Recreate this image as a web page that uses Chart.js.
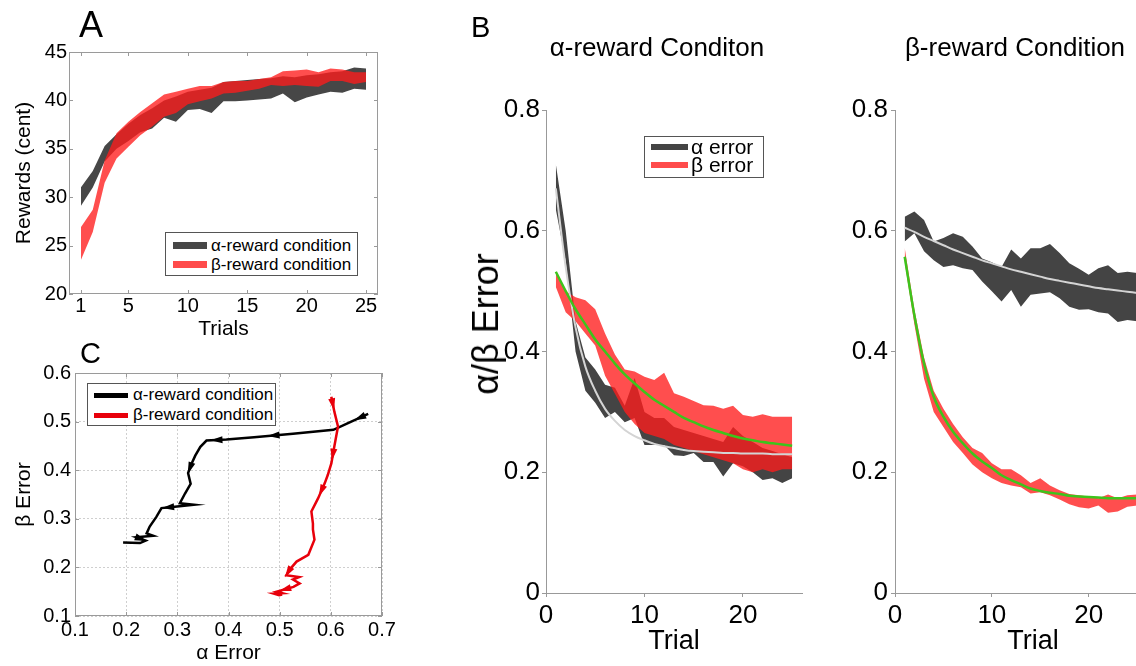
<!DOCTYPE html>
<html>
<head>
<meta charset="utf-8">
<script src="https://cdn.jsdelivr.net/npm/chart.js@4.4.1/dist/chart.umd.min.js"></script>
<style>
  html, body { margin: 0; padding: 0; background: #fff; }
  body { position: relative; width: 1136px; height: 666px; overflow: hidden;
         font-family: "Liberation Sans", Arial, sans-serif; color: #000; }
  canvas, .txt, .legend { position: absolute; }
  .txt { line-height: 1; white-space: nowrap; }
  .legend { border: 1px solid #555; background: #fff; box-sizing: border-box; }
  .legend .row { display: flex; align-items: center; white-space: nowrap; }
  .legend .sw { display: inline-block; flex: none; }
</style>
</head>
<body>
<canvas id="chartA" width="400" height="342" style="left:0;top:0"></canvas>
<canvas id="chartC" width="402" height="336" style="left:0;top:330px"></canvas>
<canvas id="chartBL" width="345" height="662" style="left:460px;top:0"></canvas>
<canvas id="chartBR" width="374" height="662" style="left:800px;top:0"></canvas>

<div class="txt" style="left:79px;top:7px;font-size:36px">A</div>
<div class="txt" style="left:471px;top:13px;font-size:29px">B</div>
<div class="txt" style="left:80px;top:339px;font-size:29px">C</div>
<div class="txt" style="left:657px;top:34px;font-size:26px;transform:translateX(-50%)">α-reward Conditon</div>
<div class="txt" style="left:1015px;top:34px;font-size:26px;transform:translateX(-50%)">β-reward Condition</div>
<div class="txt" style="left:486px;top:324px;font-size:36px;transform:translate(-50%,-50%) rotate(-90deg)">α/β Error</div>

<div class="legend" style="left:165px;top:232px;width:193px;height:44px;padding-top:3px;font-size:17px">
  <div class="row" style="height:19px"><span class="sw" style="width:34px;height:7px;margin:0 4px 0 7px;background:#474747"></span>α-reward condition</div>
  <div class="row" style="height:19px"><span class="sw" style="width:34px;height:7px;margin:0 4px 0 7px;background:#ff4c4c"></span>β-reward condition</div>
</div>
<div class="legend" style="left:87px;top:383px;width:189px;height:43px;padding-top:1px;font-size:17px">
  <div class="row" style="height:20px"><span class="sw" style="width:34px;height:5px;margin:0 5px 0 6px;background:#000"></span>α-reward condition</div>
  <div class="row" style="height:20px"><span class="sw" style="width:34px;height:5px;margin:0 5px 0 6px;background:#e8000b"></span>β-reward condition</div>
</div>
<div class="legend" style="left:644px;top:136px;width:120px;height:42px;padding-top:1px;font-size:21px">
  <div class="row" style="height:18px"><span class="sw" style="width:37px;height:6px;margin:0 3px 0 6px;background:#444"></span>α error</div>
  <div class="row" style="height:18px"><span class="sw" style="width:37px;height:6px;margin:0 3px 0 6px;background:#ff4c4c"></span>β error</div>
</div>

<script>
// trials 1..25
const trials = [1, 2, 3, 4, 5, 6, 7, 8, 9, 10, 11, 12, 13, 14, 15, 16, 17, 18, 19, 20, 21, 22, 23, 24, 25];

// A: rewards, upper / lower edge of each band
const rewardAlphaHi = [31.0, 32.7, 35.3, 36.5, 37.6, 38.5, 39.2, 40.0, 40.4, 40.9, 41.1, 41.3, 41.9, 42.0, 42.1, 42.2, 42.3, 42.5, 42.4, 42.6, 42.7, 42.9, 43.0, 43.4, 43.3];
const rewardAlphaLo = [29.1, 31.0, 33.7, 35.0, 35.8, 36.7, 37.1, 38.2, 37.8, 39.0, 39.1, 38.7, 39.9, 39.9, 40.0, 40.1, 40.2, 40.7, 39.8, 40.3, 40.6, 40.9, 40.8, 41.2, 41.1];
const rewardBetaHi = [26.9, 28.7, 33.8, 36.6, 37.8, 38.8, 39.7, 40.6, 40.9, 41.2, 41.5, 41.5, 41.9, 42.0, 42.0, 42.2, 42.4, 43.0, 43.1, 43.2, 42.9, 43.3, 43.2, 42.9, 42.9];
const rewardBetaLo = [23.5, 26.4, 31.5, 34.0, 35.2, 36.4, 37.3, 38.3, 38.7, 39.6, 39.9, 40.2, 40.7, 40.8, 41.0, 41.2, 41.6, 41.5, 41.6, 41.5, 41.4, 42.0, 42.0, 41.7, 41.9];
const trialTicksA = [1, 5, 10, 15, 20, 25];
const rewardTicks = [20, 25, 30, 35, 40, 45];

// B left: alpha-reward condition
const alphaErrHiL = [0.71, 0.60, 0.45, 0.39, 0.37, 0.345, 0.34, 0.31, 0.356, 0.30, 0.29, 0.29, 0.275, 0.27, 0.265, 0.26, 0.255, 0.25, 0.275, 0.26, 0.25, 0.24, 0.235, 0.23, 0.225];
const alphaErrLoL = [0.635, 0.55, 0.40, 0.335, 0.315, 0.29, 0.30, 0.283, 0.29, 0.245, 0.245, 0.245, 0.228, 0.227, 0.232, 0.217, 0.217, 0.193, 0.215, 0.21, 0.20, 0.187, 0.19, 0.182, 0.19];
const betaErrHiL = [0.532, 0.50, 0.49, 0.485, 0.47, 0.43, 0.395, 0.37, 0.367, 0.358, 0.353, 0.365, 0.331, 0.325, 0.318, 0.311, 0.310, 0.305, 0.310, 0.295, 0.292, 0.296, 0.292, 0.292, 0.292];
const betaErrLoL = [0.507, 0.465, 0.45, 0.43, 0.41, 0.36, 0.33, 0.30, 0.28, 0.265, 0.26, 0.255, 0.245, 0.24, 0.235, 0.23, 0.225, 0.22, 0.215, 0.205, 0.20, 0.205, 0.20, 0.205, 0.205];
const alphaFitL = [0.67, 0.54, 0.44, 0.375, 0.335, 0.305, 0.285, 0.27, 0.26, 0.253, 0.247, 0.243, 0.24, 0.237, 0.235, 0.234, 0.233, 0.232, 0.232, 0.231, 0.231, 0.231, 0.23, 0.23, 0.23];
const betaFitL = [0.532, 0.50, 0.47, 0.445, 0.42, 0.40, 0.38, 0.362, 0.347, 0.333, 0.32, 0.31, 0.30, 0.29, 0.283, 0.276, 0.27, 0.265, 0.26, 0.256, 0.253, 0.25, 0.248, 0.246, 0.244];

// B right: beta-reward condition
const alphaErrHiR = [0.623, 0.632, 0.618, 0.582, 0.588, 0.596, 0.590, 0.574, 0.554, 0.548, 0.540, 0.569, 0.554, 0.571, 0.571, 0.578, 0.563, 0.546, 0.537, 0.527, 0.538, 0.543, 0.530, 0.532, 0.530];
const alphaErrLoR = [0.582, 0.596, 0.566, 0.551, 0.540, 0.543, 0.538, 0.535, 0.516, 0.500, 0.483, 0.502, 0.474, 0.494, 0.496, 0.498, 0.488, 0.474, 0.469, 0.470, 0.465, 0.463, 0.449, 0.452, 0.450];
const betaErrHiR = [0.572, 0.47, 0.39, 0.335, 0.305, 0.28, 0.258, 0.24, 0.232, 0.215, 0.205, 0.205, 0.195, 0.182, 0.19, 0.178, 0.17, 0.164, 0.162, 0.16, 0.157, 0.163, 0.157, 0.162, 0.163];
const betaErrLoR = [0.548, 0.445, 0.355, 0.30, 0.275, 0.25, 0.232, 0.213, 0.20, 0.19, 0.182, 0.178, 0.175, 0.165, 0.167, 0.162, 0.155, 0.147, 0.142, 0.14, 0.145, 0.133, 0.135, 0.143, 0.145];
const alphaFitR = [0.605, 0.598, 0.590, 0.583, 0.576, 0.569, 0.563, 0.557, 0.551, 0.546, 0.541, 0.536, 0.532, 0.528, 0.524, 0.520, 0.517, 0.514, 0.511, 0.508, 0.505, 0.503, 0.501, 0.499, 0.497];
const betaFitR = [0.557, 0.46, 0.38, 0.325, 0.292, 0.267, 0.248, 0.231, 0.218, 0.207, 0.195, 0.187, 0.180, 0.173, 0.169, 0.166, 0.164, 0.161, 0.160, 0.159, 0.158, 0.157, 0.157, 0.157, 0.157];
const trialTicksB = [0, 10, 20];
const errTicksB = [0, 0.2, 0.4, 0.6, 0.8];

// C: trajectories (alpha error, beta error)
const pathAlphaX = [0.673, 0.64, 0.605, 0.526, 0.45, 0.396, 0.357, 0.345, 0.335, 0.328, 0.321, 0.326, 0.315, 0.305, 0.332, 0.295, 0.269, 0.259, 0.246, 0.24, 0.253, 0.22, 0.238, 0.227, 0.194];
const pathAlphaY = [0.516, 0.50, 0.483, 0.475, 0.468, 0.463, 0.461, 0.448, 0.43, 0.414, 0.394, 0.372, 0.352, 0.332, 0.329, 0.325, 0.322, 0.304, 0.284, 0.27, 0.265, 0.262, 0.255, 0.25, 0.251];
const pathBetaX = [0.601, 0.607, 0.614, 0.607, 0.601, 0.594, 0.588, 0.575, 0.562, 0.565, 0.565, 0.568, 0.556, 0.533, 0.52, 0.513, 0.538, 0.526, 0.539, 0.527, 0.494, 0.505, 0.489, 0.499, 0.505];
const pathBetaY = [0.551, 0.52, 0.49, 0.45, 0.414, 0.39, 0.373, 0.342, 0.315, 0.29, 0.278, 0.257, 0.226, 0.212, 0.196, 0.184, 0.18, 0.175, 0.167, 0.16, 0.15, 0.147, 0.146, 0.143, 0.144];
const arrowsAlpha = [0, 3, 5, 9, 15, 21];
const arrowsBeta = [0, 3, 6, 14, 19];
const errTicksCx = [0.1, 0.2, 0.3, 0.4, 0.5, 0.6, 0.7];
const errTicksCy = [0.1, 0.2, 0.3, 0.4, 0.5, 0.6];

Chart.defaults.font.family = '"Liberation Sans", Arial, sans-serif';
Chart.defaults.color = '#000';
Chart.defaults.animation = false;
Chart.defaults.responsive = false;
Chart.defaults.plugins.legend.display = false;
Chart.defaults.plugins.tooltip.enabled = false;
Chart.defaults.elements.point.radius = 0;

const GRAY = '#474747';
const RED = 'rgba(255, 28, 28, 0.78)';
const FIT_GRAY = '#d4d4d4';
const GREEN = '#3dc41c';
const NONE = 'rgba(0,0,0,0)';

const pts = (xs, ys) => xs.map((x, i) => ({ x, y: ys[i] }));
const fixTicks = vals => s => { s.ticks = vals.map(value => ({ value })); };

// lower edge + upper edge filled down to it
function bandSets(lo, hi, color, loIndex, order) {
  return [
    { data: pts(trials, lo), borderColor: NONE, borderWidth: 0, fill: false, order },
    { data: pts(trials, hi), borderColor: NONE, borderWidth: 0, backgroundColor: color, fill: loIndex, order }
  ];
}
function fitSet(vals, color, width) {
  return { data: pts(trials, vals), borderColor: color, borderWidth: width, fill: false,
           cubicInterpolationMode: 'monotone', order: 0 };
}

// MATLAB style box with inward ticks
const boxTicks = {
  id: 'boxTicks',
  afterDraw(chart) {
    const { ctx, chartArea: a, scales: { x, y } } = chart;
    ctx.save();
    ctx.strokeStyle = '#9a9a9a';
    ctx.lineWidth = 1;
    ctx.strokeRect(Math.round(a.left) + 0.5, Math.round(a.top) + 0.5, Math.round(a.width) - 1, Math.round(a.height) - 1);
    ctx.beginPath();
    x.ticks.forEach(t => {
      const px = Math.round(x.getPixelForValue(t.value)) + 0.5;
      ctx.moveTo(px, a.bottom); ctx.lineTo(px, a.bottom - 4);
      ctx.moveTo(px, a.top); ctx.lineTo(px, a.top + 4);
    });
    y.ticks.forEach(t => {
      const py = Math.round(y.getPixelForValue(t.value)) + 0.5;
      ctx.moveTo(a.left, py); ctx.lineTo(a.left + 4, py);
      ctx.moveTo(a.right, py); ctx.lineTo(a.right - 4, py);
    });
    ctx.stroke();
    ctx.restore();
  }
};

// arrowheads along trajectory segments
const arrowHeads = {
  id: 'arrowHeads',
  afterDatasetsDraw(chart) {
    const ctx = chart.ctx;
    chart.data.datasets.forEach((ds, di) => {
      if (!ds.arrowAt) return;
      const p = chart.getDatasetMeta(di).data;
      ds.arrowAt.forEach(i => {
        const a = p[i], b = p[i + 1];
        ctx.save();
        ctx.fillStyle = ds.borderColor;
        ctx.translate((a.x + b.x) / 2, (a.y + b.y) / 2);
        ctx.rotate(Math.atan2(b.y - a.y, b.x - a.x));
        ctx.beginPath();
        ctx.moveTo(6, 0); ctx.lineTo(-6, -3.5); ctx.lineTo(-6, 3.5);
        ctx.closePath();
        ctx.fill();
        ctx.restore();
      });
    });
  }
};

// ---- A ----
new Chart(document.getElementById('chartA'), {
  type: 'line',
  data: { datasets: [
    ...bandSets(rewardBetaLo, rewardBetaHi, RED, 0, 1),
    ...bandSets(rewardAlphaLo, rewardAlphaHi, GRAY, 2, 2)
  ] },
  options: {
    layout: { padding: { left: 8, right: 22, top: 52, bottom: 0 } },
    scales: {
      x: {
        type: 'linear', min: 0, max: 26,
        afterBuildTicks: fixTicks(trialTicksA),
        afterFit: s => { s.height = 48; },
        grid: { display: false, drawTicks: false }, border: { display: false },
        ticks: { font: { size: 20 }, padding: 0, maxRotation: 0, autoSkip: false },
        title: { display: true, text: 'Trials', font: { size: 21 }, padding: { top: 0, bottom: 0 } }
      },
      y: {
        min: 20, max: 45,
        afterBuildTicks: fixTicks(rewardTicks),
        afterFit: s => { s.width = 61; },
        grid: { display: false, drawTicks: false }, border: { display: false },
        ticks: { font: { size: 20 }, padding: 2 },
        title: { display: true, text: 'Rewards (cent)', font: { size: 21 }, padding: { top: 4, bottom: 0 } }
      }
    }
  },
  plugins: [boxTicks]
});

// ---- C ----
new Chart(document.getElementById('chartC'), {
  type: 'scatter',
  data: { datasets: [
    { data: pts(pathBetaX, pathBetaY), showLine: true, borderColor: '#e8000b', borderWidth: 2.5, arrowAt: arrowsBeta },
    { data: pts(pathAlphaX, pathAlphaY), showLine: true, borderColor: '#000', borderWidth: 2.5, arrowAt: arrowsAlpha }
  ] },
  options: {
    layout: { padding: { left: 8, right: 20, top: 43, bottom: 0 } },
    scales: {
      x: {
        min: 0.1, max: 0.7,
        afterBuildTicks: fixTicks(errTicksCx),
        afterFit: s => { s.height = 50; },
        grid: { color: '#cfcfcf', drawTicks: false }, border: { display: false, dash: [2, 2] },
        ticks: { font: { size: 20 }, padding: 2, maxRotation: 0, autoSkip: false, callback: v => v.toFixed(1) },
        title: { display: true, text: 'α Error', font: { size: 21 }, padding: { top: 0, bottom: 0 } }
      },
      y: {
        min: 0.1, max: 0.6,
        afterBuildTicks: fixTicks(errTicksCy),
        afterFit: s => { s.width = 67; },
        grid: { color: '#cfcfcf', drawTicks: false }, border: { display: false, dash: [2, 2] },
        ticks: { font: { size: 20 }, padding: 4, callback: v => v.toFixed(1) },
        title: { display: true, text: 'β Error', font: { size: 21 }, padding: { top: 4, bottom: 0 } }
      }
    }
  },
  plugins: [boxTicks, arrowHeads]
});

// ---- B ----
function errorPanel(id, yWidth, xMax, labelPad, sets) {
  new Chart(document.getElementById(id), {
    type: 'line',
    data: { datasets: sets },
    options: {
      layout: { padding: { left: 0, right: 3, top: 110, bottom: 0 } },
      scales: {
        x: {
          type: 'linear', min: 0, max: xMax,
          afterBuildTicks: fixTicks(trialTicksB),
          afterFit: s => { s.height = 69; },
          grid: { drawOnChartArea: false, tickLength: 4, tickColor: '#999' },
          border: { color: '#999' },
          ticks: { font: { size: 26 }, padding: 3, maxRotation: 0, autoSkip: false },
          title: { display: true, text: 'Trial', font: { size: 27 }, padding: { top: 4, bottom: 4 } }
        },
        y: {
          min: 0, max: 0.8,
          afterBuildTicks: fixTicks(errTicksB),
          afterFit: s => { s.width = yWidth; },
          grid: { drawOnChartArea: false, tickLength: 4, tickColor: '#999' },
          border: { color: '#999' },
          ticks: { font: { size: 26 }, padding: labelPad, callback: v => (v === 0 ? '0' : v.toFixed(1)) }
        }
      }
    }
  });
}

errorPanel('chartBL', 86, 26, 2, [
  fitSet(betaFitL, GREEN, 2.5),
  fitSet(alphaFitL, FIT_GRAY, 2),
  ...bandSets(betaErrLoL, betaErrHiL, RED, 2, 1),
  ...bandSets(alphaErrLoL, alphaErrHiL, '#444', 4, 2)
]);

errorPanel('chartBR', 95, 28.5, 3, [
  fitSet(betaFitR, GREEN, 2.5),
  fitSet(alphaFitR, FIT_GRAY, 2),
  ...bandSets(betaErrLoR, betaErrHiR, RED, 2, 1),
  ...bandSets(alphaErrLoR, alphaErrHiR, '#444', 4, 2)
]);
</script>
</body>
</html>
